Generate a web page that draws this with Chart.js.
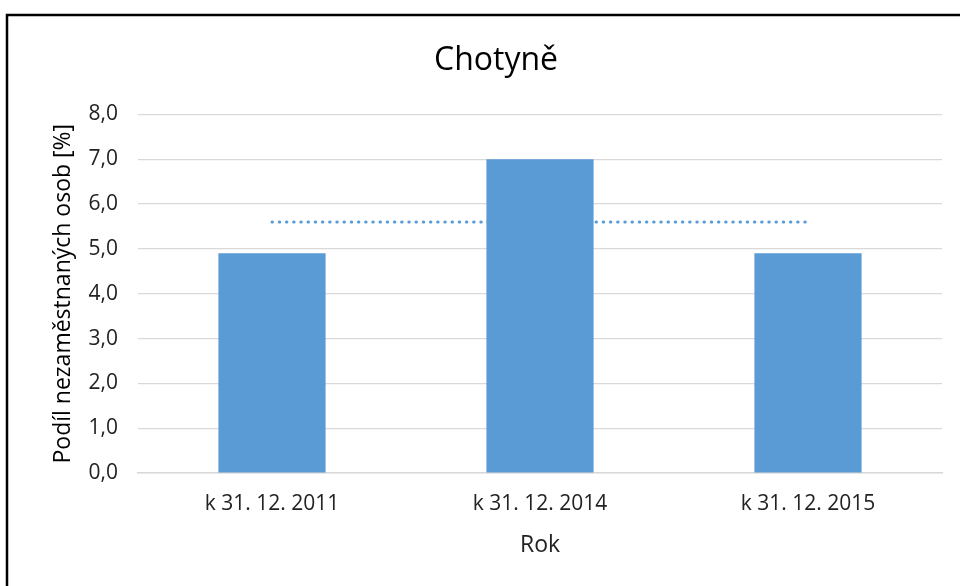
<!DOCTYPE html>
<html>
<head>
<meta charset="utf-8">
<script src="https://cdn.jsdelivr.net/npm/chart.js@4"></script>
<style>
  html, body { margin: 0; padding: 0; background: #fff; }
  #wrap { width: 960px; height: 586px; position: relative; }
</style>
</head>
<body>
<div id="wrap"><canvas id="chotyne-chart" width="960" height="586"></canvas></div>
<script>
const labels = ["k 31. 12. 2011", "k 31. 12. 2014", "k 31. 12. 2015"];
const podil = [4.9, 7.0, 4.9];
const prumer = [5.6, 5.6, 5.6];

const FONT = "'Open Sans', sans-serif";

// black frame round the picture (cut off at right and bottom)
const framePlugin = {
  id: "frame",
  afterDraw(chart) {
    const c = chart.ctx;
    c.save();
    c.strokeStyle = "#000";
    c.lineWidth = 2.5;
    c.strokeRect(7, 15, 1000, 1000);
    c.restore();
  },
};

const ctx = document.getElementById("chotyne-chart").getContext("2d");
const chart = new Chart(ctx, {
  type: "bar",
  data: {
    labels: labels,
    datasets: [
      {
        type: "line",
        label: "průměr",
        data: prumer,
        borderColor: "#5B9BD5",
        borderWidth: 3,
        borderDash: [0.5, 6.7],
        borderCapStyle: "round",
        pointRadius: 0,
        fill: false,
        order: 2,
      },
      {
        label: "Podíl nezaměstnaných osob",
        data: podil,
        backgroundColor: "#5B9BD5",
        categoryPercentage: 1,
        barPercentage: 0.4,
        order: 1,
      },
    ],
  },
  options: {
    responsive: false,
    animation: false,
    layout: { padding: { left: 50, right: 18, top: 22, bottom: 27 } },
    plugins: {
      legend: { display: false },
      tooltip: { enabled: false },
      title: {
        display: true,
        text: "Chotyně",
        color: "#000",
        font: { family: FONT, size: 32, weight: "normal" },
        padding: { top: 20, bottom: 34 },
      },
    },
    scales: {
      x: {
        afterFit: (scale) => { scale.height = 86; },
        grid: { display: false, drawTicks: false },
        border: { color: "#D9D9D9", width: 1.5 },
        ticks: {
          color: "#222",
          padding: 18,
          maxRotation: 0,
          font: { family: FONT, size: 21 },
        },
        title: {
          display: true,
          text: "Rok",
          color: "#222",
          font: { family: FONT, size: 23 },
          padding: { top: 0, bottom: 0 },
        },
      },
      y: {
        afterFit: (scale) => { scale.width = 88; },
        min: 0,
        max: 8,
        grid: { color: "#D9D9D9", lineWidth: 1.2, drawTicks: false },
        border: { display: false },
        ticks: {
          stepSize: 1,
          color: "#222",
          padding: 20,
          font: { family: FONT, size: 21 },
          callback: (v) => v.toFixed(1).replace(".", ","),
        },
        title: {
          display: true,
          text: "Podíl nezaměstnaných osob [%]",
          color: "#000",
          font: { family: FONT, size: 23 },
          padding: { top: 0, bottom: 0 },
        },
      },
    },
  },
  plugins: [framePlugin],
});
</script>
</body>
</html>
